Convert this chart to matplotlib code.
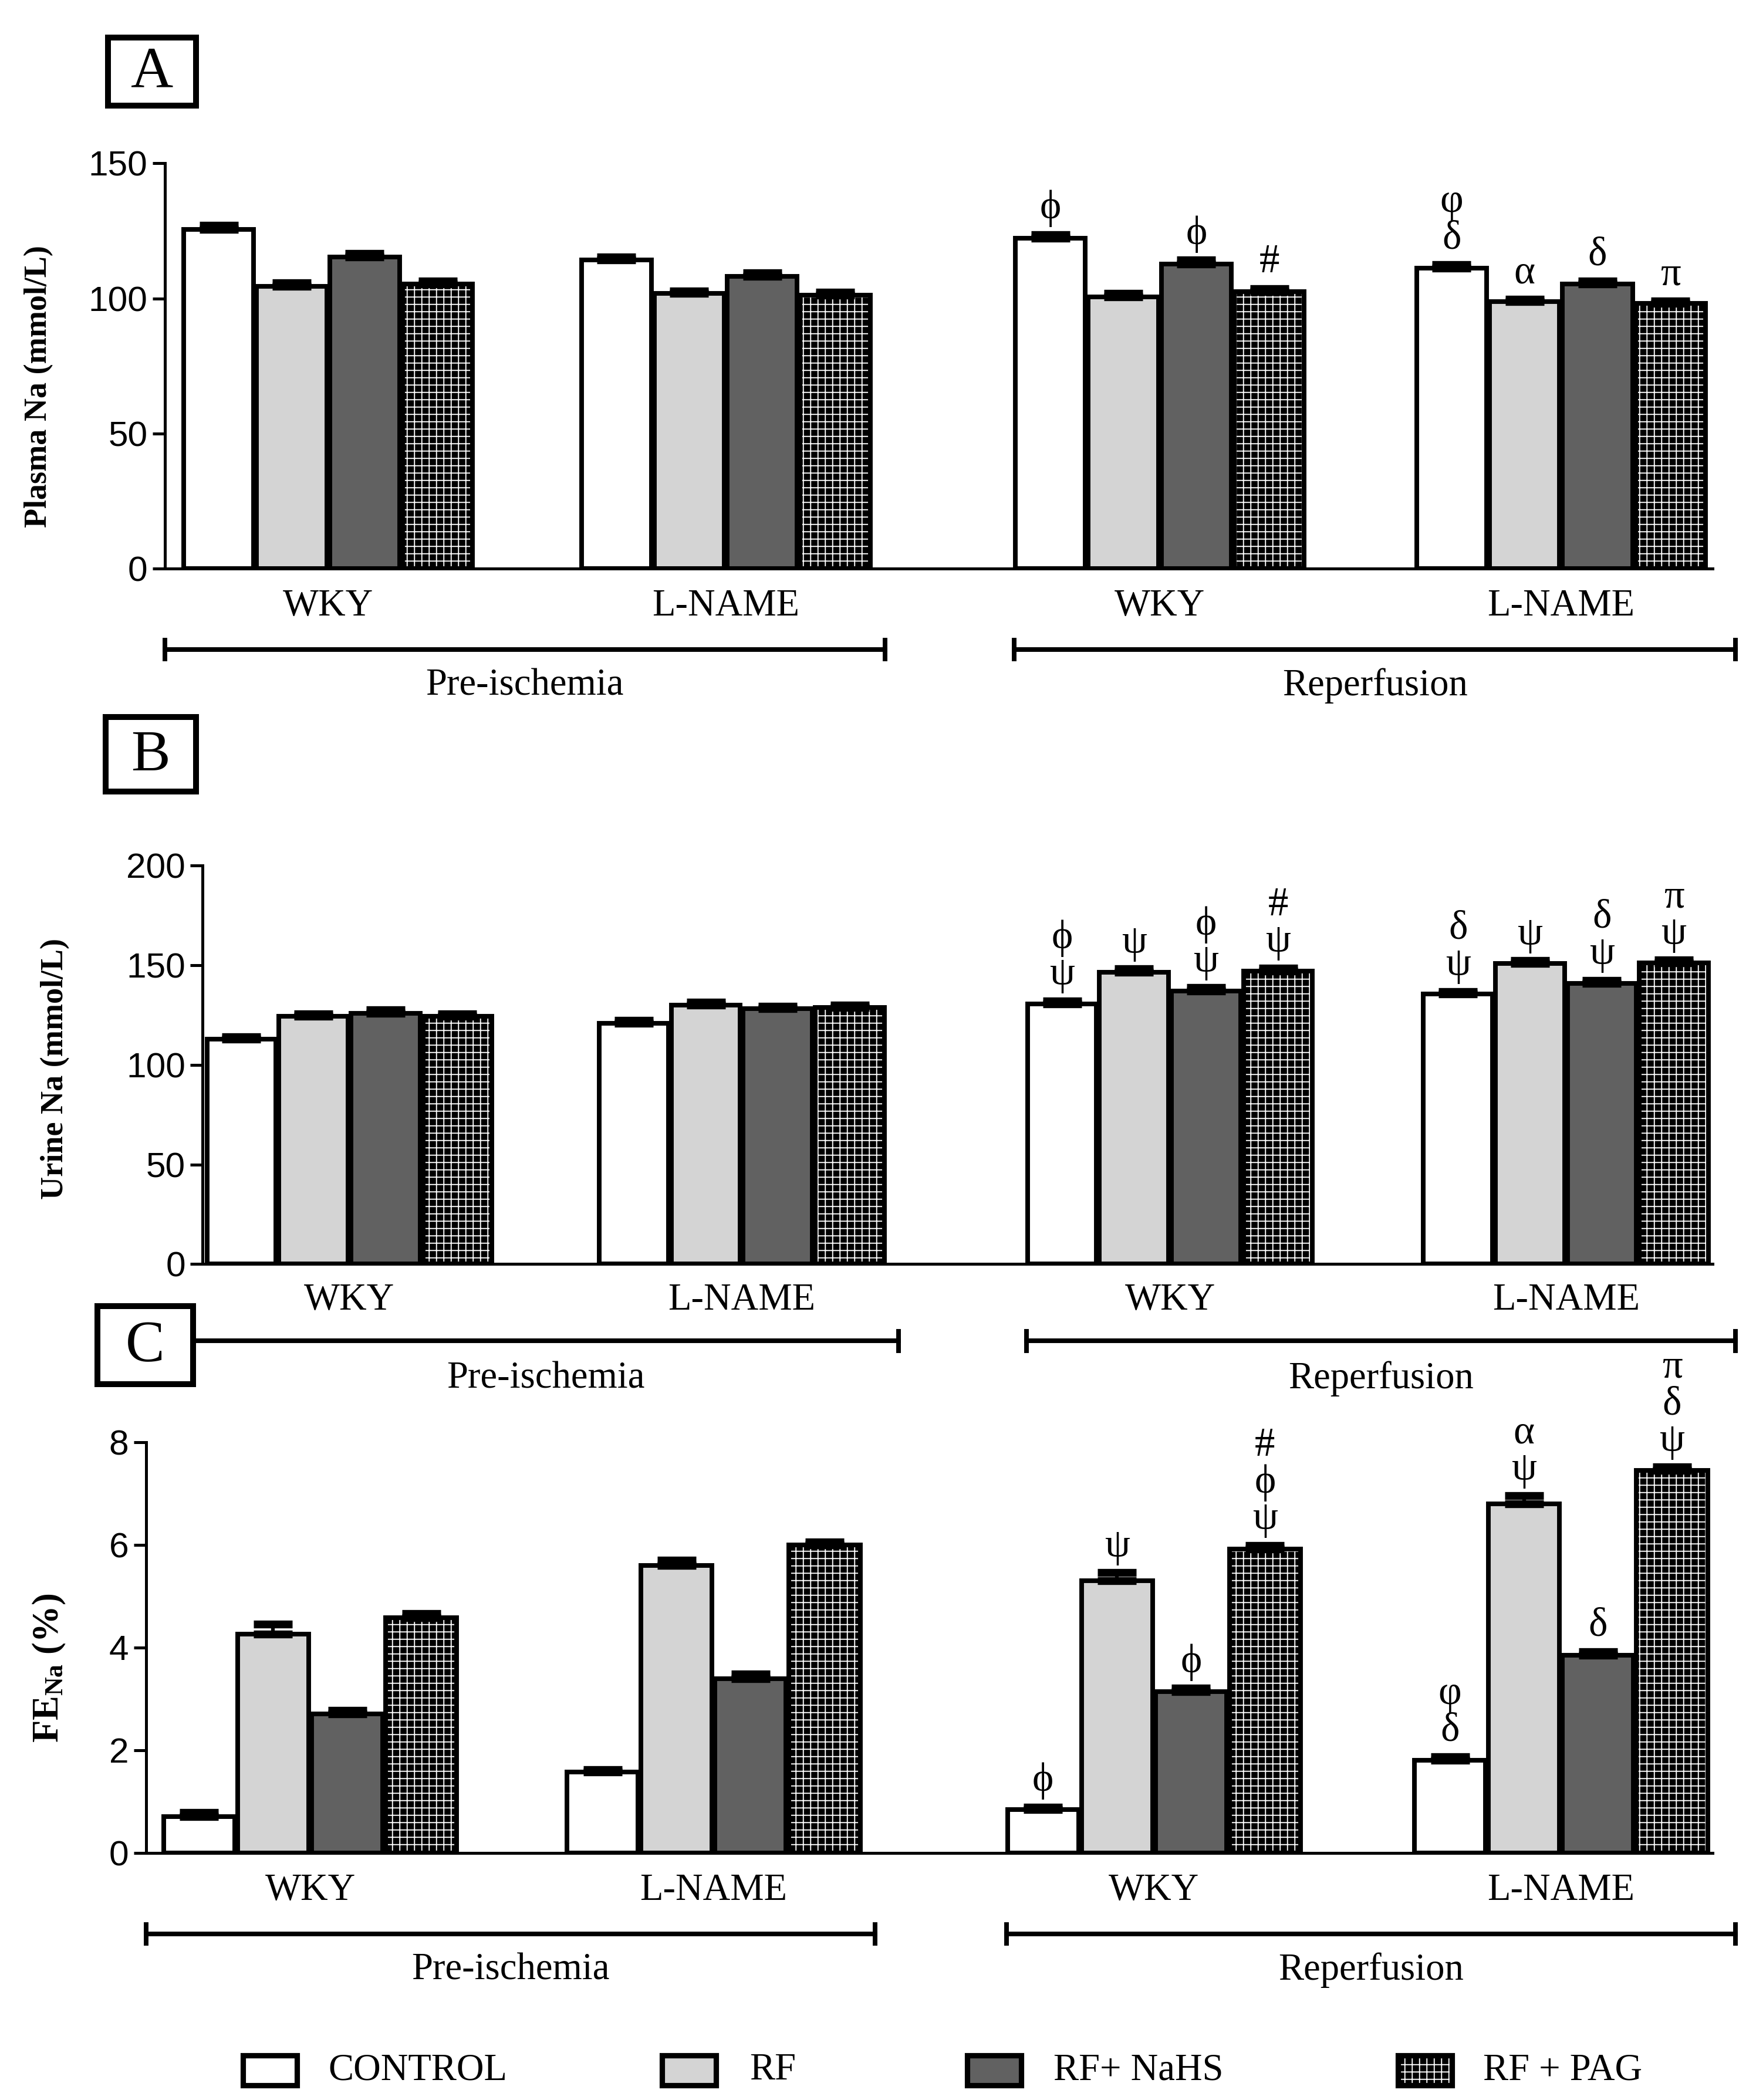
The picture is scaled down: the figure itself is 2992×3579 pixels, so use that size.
import numpy as np
import matplotlib
matplotlib.use("Agg")
import matplotlib.pyplot as plt
import matplotlib.transforms as mtransforms
from matplotlib.patches import Rectangle
from matplotlib.lines import Line2D

# ---- data ----
treatments = ["CONTROL", "RF", "RF+ NaHS", "RF + PAG"]
groups = ["WKY", "L-NAME", "WKY", "L-NAME"]
phases = ["Pre-ischemia", "Reperfusion"]

# Panel A: plasma Na (mmol/L); one row per group, columns = treatments
plasma_na = [[125.5, 104.5, 115.3, 105.3],
             [114.3, 101.8, 108.2, 101.2],
             [122.3, 100.6, 112.8, 102.6],
             [111.3, 98.8, 105.3, 98.2]]
plasma_err = [[1.5, 1.3, 1.4, 1.2],
              [1.0, 0.9, 1.2, 1.1],
              [1.4, 1.2, 1.4, 1.1],
              [1.2, 1.0, 1.2, 0.9]]
plasma_marks = [["", "", "", ""],
                ["", "", "", ""],
                ["\u03d5", "", "\u03d5", "#"],
                ["\u03c6\n\u03b4", "\u03b1", "\u03b4", "\u03c0"]]

# Panel B: urine Na (mmol/L)
urine_na = [[112.8, 124.3, 126.0, 124.3],
            [121.0, 130.0, 128.2, 128.8],
            [130.5, 146.5, 137.0, 147.0],
            [135.5, 150.8, 140.8, 151.2]]
urine_err = [[1.4, 1.4, 1.6, 1.4],
             [1.2, 1.5, 1.2, 1.3],
             [1.6, 1.7, 1.7, 1.6],
             [1.4, 1.5, 1.6, 1.4]]
urine_marks = [["", "", "", ""],
               ["", "", "", ""],
               ["\u03d5\n\u03c8", "\u03c8", "\u03d5\n\u03c8", "#\n\u03c8"],
               ["\u03b4\n\u03c8", "\u03c8", "\u03b4\n\u03c8", "\u03c0\n\u03c8"]]

# Panel C: FENa (%)
fena = [[0.71, 4.26, 2.71, 4.58],
        [1.57, 5.60, 3.39, 6.00],
        [0.84, 5.30, 3.14, 5.92],
        [1.81, 6.80, 3.85, 7.45]]
fena_err = [[0.08, 0.20, 0.07, 0.08],
            [0.05, 0.10, 0.09, 0.06],
            [0.05, 0.16, 0.07, 0.07],
            [0.06, 0.16, 0.07, 0.07]]
fena_marks = [["", "", "", ""],
              ["", "", "", ""],
              ["\u03d5", "\u03c8", "\u03d5", "#\n\u03d5\n\u03c8"],
              ["\u03c6\n\u03b4", "\u03b1\n\u03c8", "\u03b4", "\u03c0\n\u03b4\n\u03c8"]]

# ---- style ----
SERIF = ["Liberation Serif", "DejaVu Serif"]
SANS = ["Liberation Sans", "DejaVu Sans"]
plt.rcParams["font.family"] = SANS
plt.rcParams["hatch.linewidth"] = 0.45
plt.rcParams["mathtext.fontset"] = "custom"
plt.rcParams["mathtext.rm"] = "Liberation Serif"
plt.rcParams["mathtext.bf"] = "Liberation Serif:bold"

fills = ["white", "#d4d4d4", "#616161", "black"]
group_start = [0.0, 5.45, 11.4, 16.9]
EDGE = 1.9

W, H = 1300.0, 1555.0  # layout measured on a 1300x1555 frame


def fx(px):
    return px / W


def fy(py):
    return 1 - py / H


fig = plt.figure(figsize=(2992 / 300, 3579 / 300), dpi=300)


def panel(rect_px, xlim, ymax, yticks, values, errs, marks, ylabel, ylabel_xy, ylabel_size):
    left, top, right, bottom = rect_px
    ax = fig.add_axes([fx(left), fy(bottom), fx(right) - fx(left), (bottom - top) / H])
    vals = np.array(values)
    err = np.array(errs)
    for t in range(4):
        xs = np.array(group_start) + t + 0.5
        if t == 3:
            ax.bar(xs, vals[:, t], width=0.96, color="black", edgecolor="white",
                   hatch="++++", linewidth=0, zorder=2)
            ax.bar(xs, vals[:, t], width=0.96, fill=False, edgecolor="black",
                   linewidth=EDGE, zorder=3)
        else:
            ax.bar(xs, vals[:, t], width=0.96, color=fills[t], edgecolor="black",
                   linewidth=EDGE, zorder=3)
        ax.errorbar(xs, vals[:, t], yerr=[np.zeros(4), err[:, t]], fmt="none",
                    ecolor="black", elinewidth=1.5, capsize=8, capthick=3.2, zorder=4)
        for g in range(4):
            if marks[g][t]:
                ax.annotate(marks[g][t], (xs[g], vals[g, t] + err[g, t]),
                            xytext=(0, 3), textcoords="offset points",
                            ha="center", va="bottom", fontsize=16.5,
                            family=SERIF, linespacing=0.98)
    ax.set_xlim(*xlim)
    ax.set_ylim(0, ymax)
    ax.set_yticks(yticks)
    ax.set_xticks([])
    for s in ["top", "right"]:
        ax.spines[s].set_visible(False)
    for s in ["left", "bottom"]:
        ax.spines[s].set_linewidth(1.2)
    ax.tick_params(axis="y", direction="out", length=5, width=1.2, labelsize=14.5, pad=2)
    ax.set_ylabel(ylabel, family=SERIF, fontweight="bold", fontsize=ylabel_size)
    ax.yaxis.set_label_coords(*ylabel_xy)
    ax.patch.set_alpha(0)
    return ax


def group_labels(ax, ypx):
    trans = mtransforms.blended_transform_factory(ax.transData, fig.transFigure)
    for g, name in enumerate(groups):
        ax.text(group_start[g] + 2.0, fy(ypx), name, transform=trans, ha="center",
                va="center", fontsize=15.5, family=SERIF, clip_on=False)


def bracket(x0, x1, ypx, label, label_ypx):
    y = fy(ypx)
    fig.add_artist(Line2D([fx(x0), fx(x1)], [y, y], color="black", lw=1.9,
                          transform=fig.transFigure))
    for xx in (x0, x1):
        fig.add_artist(Line2D([fx(xx), fx(xx)], [fy(ypx - 7), fy(ypx + 7)],
                              color="black", lw=1.9, transform=fig.transFigure))
    fig.text(fx((x0 + x1) / 2), fy(label_ypx), label, ha="center", va="center",
             fontsize=15.5, family=SERIF)


def letter_box(x0, y0, x1, y1, letter):
    fig.add_artist(Rectangle((fx(x0), fy(y1)), fx(x1) - fx(x0), (y1 - y0) / H,
                             facecolor="white", edgecolor="black", lw=2.4,
                             transform=fig.transFigure, zorder=10))
    fig.text(fx((x0 + x1) / 2), fy((y0 + y1) / 2 + 1), letter, ha="center",
             va="center", fontsize=24, family=SERIF, zorder=11)


# Panel A
axA = panel((122, 121, 1268, 421), (-0.24, 20.98), 150, [0, 50, 100, 150],
            plasma_na, plasma_err, plasma_marks, "Plasma Na (mmol/L)", (-0.072, 0.45), 13)
group_labels(axA, 449)
bracket(122, 655, 481, phases[0], 508)
bracket(751, 1285, 481, phases[1], 508)
letter_box(80, 28, 145, 78, "A")

# Panel B
axB = panel((150, 641, 1268, 936), (-0.04, 20.94), 200, [0, 50, 100, 150, 200],
            urine_na, urine_err, urine_marks, "Urine Na (mmol/L)", (-0.088, 0.49), 13)
group_labels(axB, 963)
bracket(143, 665, 993, phases[0], 1021)
bracket(760, 1285, 993, phases[1], 1021)
letter_box(78, 531, 145, 586, "B")

# Panel C
axC = panel((108, 1068, 1268, 1372), (-0.22, 20.95), 8, [0, 2, 4, 6, 8],
            fena, fena_err, fena_marks, r"$\mathbf{FE_{Na}}$ (%)", (-0.05, 0.45), 15)
group_labels(axC, 1400)
bracket(108, 648, 1432, phases[0], 1459)
bracket(745, 1285, 1432, phases[1], 1459)
letter_box(72, 967, 143, 1025, "C")

# Legend
leg_box_x = [180, 490, 716, 1035]
leg_text_x = [243, 555, 780, 1098]
for i, name in enumerate(treatments):
    x0 = leg_box_x[i]
    if i == 3:
        fig.add_artist(Rectangle((fx(x0), fy(1544)), fx(40), 22 / H, facecolor="black",
                                 edgecolor="white", hatch="++++", lw=0,
                                 transform=fig.transFigure))
        fig.add_artist(Rectangle((fx(x0), fy(1544)), fx(40), 22 / H, fill=False,
                                 edgecolor="black", lw=2.2, transform=fig.transFigure))
    else:
        fig.add_artist(Rectangle((fx(x0), fy(1544)), fx(40), 22 / H, facecolor=fills[i],
                                 edgecolor="black", lw=2.2, transform=fig.transFigure))
    fig.text(fx(leg_text_x[i]), fy(1533), name, ha="left", va="center",
             fontsize=15.5, family=SERIF)

fig.savefig("out.png", dpi=300, facecolor="white")
